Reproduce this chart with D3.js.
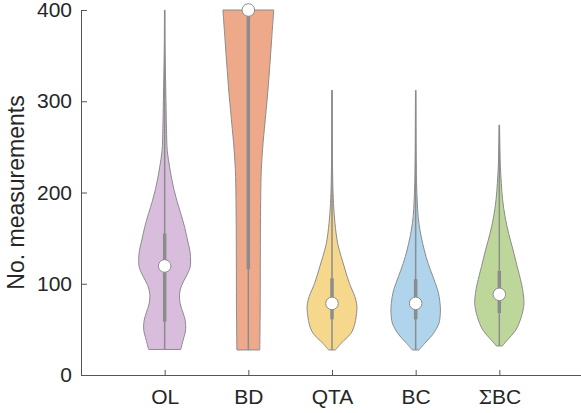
<!DOCTYPE html>
<html>
<head>
<meta charset="utf-8">
<script src="https://cdn.jsdelivr.net/npm/d3@7/dist/d3.min.js"></script>
<style>
  html, body { margin: 0; padding: 0; background: #fff; }
  svg { display: block; font-family: "Liberation Sans", Arial, Helvetica, sans-serif; }
</style>
</head>
<body>
<svg id="chart" width="581" height="413"></svg>
<script>
// Categories (estimators) and their violin colours
const categories = ["OL", "BD", "QTA", "BC", "ΣBC"];
const fillColors = ["#d8bedc", "#eda98a", "#f6d88c", "#afd4ec", "#bdd79b"];

// Kernel density profiles: [value, relative density]
const densityOL = [
  [28, 0.62], [38, 0.71], [50, 0.81], [60, 0.79], [68, 0.71], [78, 0.60],
  [88, 0.57], [98, 0.65], [108, 0.83], [118, 0.98], [125, 1.0], [135, 0.98],
  [148, 0.88], [162, 0.77], [177, 0.62], [190, 0.48], [203, 0.36], [215, 0.27],
  [228, 0.19], [246, 0.10], [270, 0.07], [301, 0.05], [330, 0.03], [360, 0.012],
  [400, 0.004]
];
const densityBD = [
  [27.4, 0.44], [64, 0.455], [100, 0.46], [155, 0.465], [190, 0.475], [210, 0.485],
  [225, 0.50], [240, 0.53], [255, 0.57], [270, 0.62], [290, 0.685], [310, 0.75],
  [340, 0.83], [370, 0.905], [400, 0.98]
];
const densityQTA = [
  [27.4, 0.13], [34.7, 0.35], [45.7, 0.73], [55, 0.87], [64, 0.93], [71, 0.96],
  [78, 0.95], [86, 0.88], [100.5, 0.67], [115, 0.51], [130, 0.35], [144, 0.22],
  [166, 0.115], [188, 0.058], [210, 0.03], [250, 0.015], [290, 0.008], [312, 0.004]
];
const densityBC = [
  [27.4, 0.13], [34.7, 0.35], [45.7, 0.69], [57, 0.90], [67.6, 0.95], [74.9, 0.95],
  [89.5, 0.88], [100.5, 0.76], [115, 0.57], [129.7, 0.40], [144.3, 0.27],
  [158.9, 0.165], [173.5, 0.096], [191.8, 0.058], [210, 0.035], [250, 0.015],
  [290, 0.008], [312, 0.004]
];
const densitySBC = [
  [31.8, 0.115], [38.4, 0.31], [49, 0.63], [64, 0.85], [78.5, 0.95], [89.5, 0.92],
  [100.5, 0.85], [118.7, 0.69], [137, 0.53], [155, 0.36], [173.5, 0.22],
  [192, 0.127], [210, 0.077], [228, 0.04], [250, 0.02], [274, 0.005]
];
const densities = [densityOL, densityBD, densityQTA, densityBC, densitySBC];

// Summary statistics per category
const medians = [119.5, 400, 78.5, 78.5, 88.4];
const q1 = [58.5, 116, 61, 61, 68];
const q3 = [155, 400, 106, 105, 114];
const mins = [28, 27.4, 27.4, 27.4, 31.8];
const maxs = [400, 400, 312, 312, 274];

// Axis ticks
const yTicks = [0, 100, 200, 300, 400];
const yLabel = "No. measurements";

const svg = d3.select("#chart");
const plot = { left: 81, right: 583, top: 10, bottom: 375 };

const x = d3.scalePoint()
  .domain(categories)
  .range([plot.left, plot.right])
  .padding(1);

const y = d3.scaleLinear()
  .domain([0, 400])
  .range([plot.bottom, plot.top]);

// Violin half-width: peak density spans ~30% of category spacing
const halfW = d3.scaleLinear().domain([0, 1]).range([0, 0.31 * x.step()]);

const edge = "#8c8c8c";

const g = svg.append("g");

categories.forEach((cat, i) => {
  const cx = x(cat);
  const area = d3.area()
    .curve(d3.curveCatmullRom.alpha(0.5))
    .y(d => y(d[0]))
    .x0(d => cx - halfW(d[1]))
    .x1(d => cx + halfW(d[1]));

  const vg = g.append("g").attr("class", "violin");

  vg.append("path")
    .datum(densities[i])
    .attr("d", area)
    .attr("fill", fillColors[i])
    .attr("stroke", edge)
    .attr("stroke-width", 1);

  // whisker (full range)
  vg.append("line")
    .attr("x1", cx).attr("x2", cx)
    .attr("y1", y(mins[i])).attr("y2", y(maxs[i]))
    .attr("stroke", edge)
    .attr("stroke-width", 1.5);

  // interquartile bar
  vg.append("line")
    .attr("x1", cx).attr("x2", cx)
    .attr("y1", y(q1[i])).attr("y2", y(q3[i]))
    .attr("stroke", edge)
    .attr("stroke-width", 3.5);

  // median
  vg.append("circle")
    .attr("cx", cx).attr("cy", y(medians[i]))
    .attr("r", 6.3)
    .attr("fill", "#fff")
    .attr("stroke", edge)
    .attr("stroke-width", 1);
});

// Axes
const axisColor = "#555";
const textColor = "#262626";

const yAxis = svg.append("g")
  .attr("transform", `translate(${plot.left},0)`)
  .call(d3.axisLeft(y).tickValues(yTicks).tickSizeInner(-6).tickSizeOuter(0).tickPadding(9));

const xAxis = svg.append("g")
  .attr("transform", `translate(0,${plot.bottom})`)
  .call(d3.axisBottom(x).tickSizeInner(-5).tickSizeOuter(0).tickPadding(14.5));

[yAxis, xAxis].forEach(a => {
  a.select(".domain").attr("stroke", axisColor).attr("stroke-width", 1);
  a.selectAll(".tick line").attr("stroke", axisColor).attr("stroke-width", 1);
  a.selectAll(".tick text")
    .attr("fill", textColor)
    .style("font-size", "21px")
    .style("font-family", '"Liberation Sans", Arial, Helvetica, sans-serif');
});

// Sigma rendered in a serif face
xAxis.selectAll(".tick text").each(function(d) {
  if (d.startsWith("Σ")) {
    const t = d3.select(this);
    t.text(null);
    t.append("tspan").style("font-family", '"DejaVu Serif", "Liberation Serif", serif')
      .style("font-size", "19px").text("Σ");
    t.append("tspan").text(d.slice(1));
  }
});

svg.append("text")
  .attr("transform", `translate(24,${(plot.top + plot.bottom) / 2}) rotate(-90)`)
  .attr("text-anchor", "middle")
  .attr("fill", textColor)
  .style("font-size", "23px")
  .text(yLabel);
</script>
</body>
</html>
